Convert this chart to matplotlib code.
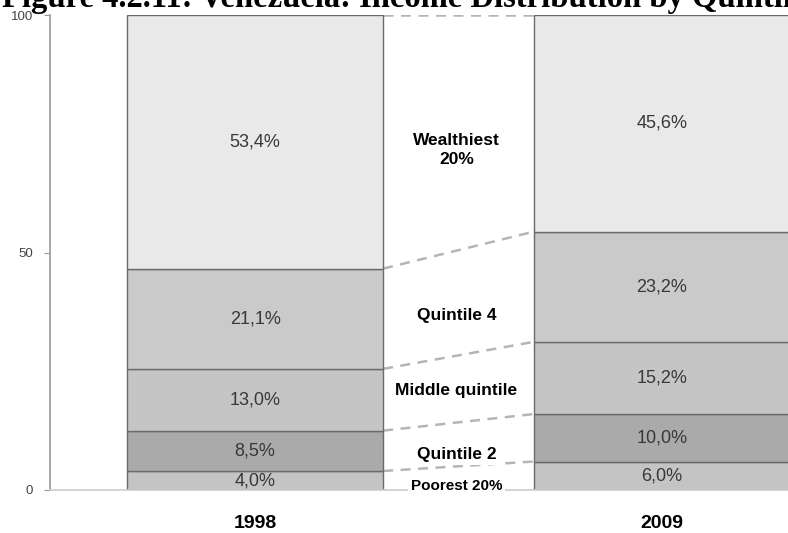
import matplotlib.pyplot as plt
import numpy as np

# income share by quintile, poorest first
years = ['1998', '2009']
poorest = [4.0, 6.0]
quintile2 = [8.5, 10.0]
middle = [13.0, 15.2]
quintile4 = [21.1, 23.2]
wealthiest = [53.4, 45.6]

group_names = ['Poorest 20%', 'Quintile 2', 'Middle quintile', 'Quintile 4', 'Wealthiest\n20%']
group_label_y = [0.8, 7.4, 21.0, 36.8, 71.6]
colors = ['#c4c4c4', '#aaaaaa', '#c5c5c5', '#cacaca', '#e9e9e9']

shares = np.array([poorest, quintile2, middle, quintile4, wealthiest])
tops = np.cumsum(shares, axis=0)
bottoms = tops - shares

fig = plt.figure(figsize=(7.88, 5.33), dpi=100)
ax = fig.add_axes([50 / 788, 43 / 533, 738 / 788, 475 / 533])

x = np.arange(len(years))
width = 0.629
for i in range(len(shares)):
    ax.bar(x, shares[i], width, bottom=bottoms[i], color=colors[i],
           edgecolor='#6a6a6a', linewidth=1, zorder=2)
    for j in range(len(years)):
        ax.text(x[j], bottoms[i][j] + shares[i][j] / 2,
                f'{shares[i][j]:.1f}%'.replace('.', ','),
                ha='center', va='center', fontsize=13, color='#383838',
                family='Liberation Sans', zorder=3)

# dashed connectors between segment boundaries
for i in range(len(shares)):
    ax.plot([x[0] + width / 2, x[1] - width / 2], [tops[i][0], tops[i][1]],
            color='#b5b5b5', linewidth=1.8, linestyle=(0, (4, 3)), zorder=1)

for name, yy in zip(group_names, group_label_y):
    small = name.startswith('Poorest')
    ax.text(0.495, yy, name, ha='center', va='center',
            fontsize=11 if small else 12.5, fontweight='bold',
            family='Liberation Sans', color='black', linespacing=1.35,
            bbox=dict(facecolor='white', edgecolor='none', pad=2), zorder=4)

ax.set_xlim(-0.504, 1.3096)
ax.set_ylim(0, 100)
ax.set_yticks([0, 50, 100])
ax.set_yticklabels(['0', '50', '100'], fontsize=9.5, color='#444444',
                   family='Liberation Sans')
ax.set_xticks(x)
ax.set_xticklabels(years, fontsize=14, fontweight='bold', family='Liberation Sans')
ax.tick_params(axis='x', length=0, pad=18)
ax.tick_params(axis='y', length=4, color='#999999', pad=8)

for side in ['top', 'right']:
    ax.spines[side].set_visible(False)
ax.spines['left'].set_color('#999999')
ax.spines['bottom'].set_color('#cccccc')
ax.spines['left'].set_linewidth(1.2)
ax.spines['bottom'].set_linewidth(1.2)

fig.text(2 / 788, 1 - 7 / 533,
         'Figure 4.2.11: Venezuela: Income Distribution by Quintile',
         fontsize=23.5, fontweight='bold', family='Liberation Serif',
         ha='left', va='baseline')

fig.savefig('out.png', dpi=100)
